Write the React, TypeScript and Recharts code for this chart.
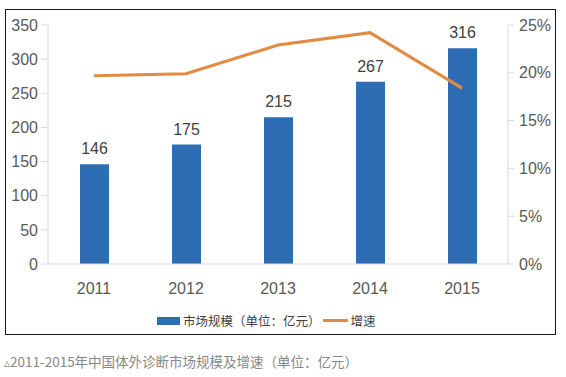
import React from 'react';
import { ComposedChart, Bar, Line, XAxis, YAxis, LabelList, Legend } from 'recharts';

const years = ['2011', '2012', '2013', '2014', '2015'];
const marketSize = [146, 175, 215, 267, 316];
const growthRate = [0.197, 0.199, 0.229, 0.242, 0.184];
const leftTicks = [0, 50, 100, 150, 200, 250, 300, 350];
const rightTicks = [0, 0.05, 0.1, 0.15, 0.2, 0.25];

const data = years.map((year, i) => ({
  year,
  size: marketSize[i],
  growth: growthRate[i]
}));

const BAR_COLOR = '#2E6DB4';
const LINE_COLOR = '#E38B42';
const AXIS_COLOR = '#D9D9D9';
const TEXT_COLOR = '#595959';
const FONT = '"Liberation Sans", "Noto Sans CJK SC", sans-serif';

const LegendContent = () => (
  <div style={{ display: 'flex', alignItems: 'center', fontFamily: '"Noto Sans CJK SC", sans-serif', fontSize: 12.5, color: '#404040', whiteSpace: 'nowrap' }}>
    <span style={{ display: 'inline-block', width: 23, height: 8, background: BAR_COLOR, marginRight: 3 }} />
    <span>市场规模（单位：亿元）</span>
    <span style={{ display: 'inline-block', width: 25, height: 3, background: LINE_COLOR, margin: '0 3px 0 2px' }} />
    <span>增速</span>
  </div>
);

const App: React.FC = () => {
  return (
    <div style={{ position: 'absolute', left: 0, top: 0, width: 566, height: 377, background: '#fff' }}>
      <div style={{ position: 'absolute', left: 5, top: 9, width: 549, height: 324, border: '1.5px solid #1a1a1a' }} />
      <div style={{ position: 'absolute', left: 0, top: 0 }}>
        <ComposedChart width={566} height={340} data={data} margin={{ top: 25, right: 0, left: 0, bottom: 37 }}>
          <XAxis
            dataKey="year"
            axisLine={{ stroke: AXIS_COLOR }}
            tickLine={false}
            tickSize={0}
            tickMargin={19}
            height={20}
            tick={{ fill: TEXT_COLOR, fontSize: 16, fontFamily: FONT }}
          />
          <YAxis
            yAxisId="left"
            width={48}
            domain={[0, 350]}
            ticks={leftTicks}
            interval={0}
            axisLine={{ stroke: AXIS_COLOR }}
            tickLine={{ stroke: AXIS_COLOR }}
            tickSize={7}
            tickMargin={3}
            tick={{ fill: TEXT_COLOR, fontSize: 16, fontFamily: FONT }}
          />
          <YAxis
            yAxisId="right"
            orientation="right"
            width={58}
            domain={[0, 0.25]}
            ticks={rightTicks}
            interval={0}
            axisLine={{ stroke: AXIS_COLOR }}
            tickLine={{ stroke: AXIS_COLOR }}
            tickSize={6}
            tickMargin={5}
            tickFormatter={(v: number) => `${Math.round(v * 100)}%`}
            tick={{ fill: TEXT_COLOR, fontSize: 16, fontFamily: FONT }}
          />
          <Legend
            content={<LegendContent />}
            wrapperStyle={{ position: 'absolute', left: 157, top: 311, width: 'auto' }}
          />
          <Bar yAxisId="left" dataKey="size" fill={BAR_COLOR} barSize={29} isAnimationActive={false}>
            <LabelList dataKey="size" position="top" offset={10} fill="#404040" fontSize={16} fontFamily={FONT} />
          </Bar>
          <Line
            yAxisId="right"
            type="linear"
            dataKey="growth"
            stroke={LINE_COLOR}
            strokeWidth={3}
            dot={false}
            isAnimationActive={false}
          />
        </ComposedChart>
      </div>
      <div
        style={{
          position: 'absolute',
          left: 4,
          top: 351,
          fontFamily: '"Noto Sans CJK SC", sans-serif',
          fontSize: 13.5,
          color: '#888',
          whiteSpace: 'nowrap'
        }}
      >
        <span style={{ fontSize: 12 }}>▵</span>2011-2015年中国体外诊断市场规模及增速（单位：亿元）
      </div>
    </div>
  );
};

export default App;
